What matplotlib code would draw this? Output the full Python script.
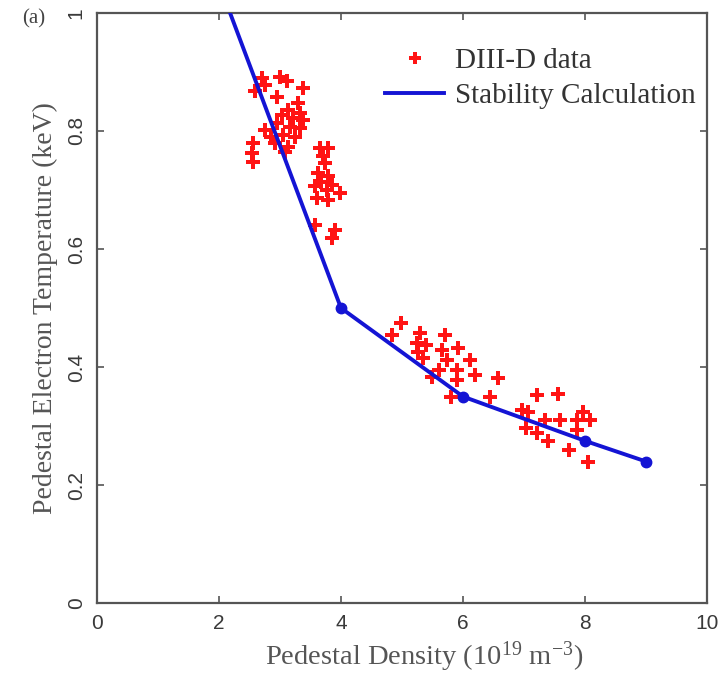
import matplotlib
matplotlib.use("Agg")
import matplotlib.pyplot as plt
from matplotlib.lines import Line2D

plt.rcParams["mathtext.fontset"] = "custom"
plt.rcParams["mathtext.rm"] = "Liberation Serif"
plt.rcParams["mathtext.it"] = "Liberation Serif:italic"

# DIII-D pedestal measurements: density (1e19 m^-3) and electron temperature (keV)
density = [
    2.70, 3.00, 3.11, 3.38, 2.59, 2.75, 2.95, 3.30, 3.14, 3.33, 3.03, 3.22, 3.38,
    2.95, 3.16, 3.33, 2.75, 2.86, 3.05, 3.25, 2.92, 3.14, 2.56, 2.54, 2.56, 3.08,
    3.66, 3.79, 3.71, 3.74, 3.63, 3.79, 3.68, 3.85, 3.57, 3.77, 3.98, 3.60, 3.79,
    3.57, 3.90, 3.85,
    4.99, 4.83, 5.30, 5.70, 5.24, 5.40, 5.92, 5.27, 5.65, 6.11, 5.35, 5.73, 5.60,
    5.90, 6.20, 6.58, 5.49, 5.90, 5.81, 6.44, 7.21, 7.56, 6.96, 7.07, 7.34, 7.59,
    7.97, 8.08, 7.86, 7.04, 7.21, 7.40, 7.73, 8.05, 7.86,
]
temperature = [
    0.889, 0.892, 0.884, 0.872, 0.867, 0.878, 0.858, 0.847, 0.836, 0.830, 0.827,
    0.821, 0.819, 0.813, 0.807, 0.805, 0.802, 0.790, 0.793, 0.790, 0.779, 0.773,
    0.779, 0.762, 0.748, 0.765,
    0.771, 0.771, 0.757, 0.745, 0.728, 0.723, 0.714, 0.708, 0.706, 0.700, 0.694,
    0.686, 0.683, 0.641, 0.632, 0.618,
    0.474, 0.454, 0.457, 0.454, 0.440, 0.437, 0.432, 0.426, 0.429, 0.412, 0.415,
    0.412, 0.395, 0.395, 0.386, 0.381, 0.384, 0.378, 0.350, 0.350, 0.353, 0.355,
    0.327, 0.324, 0.310, 0.310, 0.324, 0.310, 0.310, 0.296, 0.288, 0.274, 0.259,
    0.240, 0.293,
]

# Stability calculation boundary
calc_density = [2.0, 4.0, 6.0, 8.0, 9.0]
calc_temperature = [1.05, 0.50, 0.35, 0.275, 0.24]

x_ticks = [0, 2, 4, 6, 8, 10]
y_ticks = [0, 0.2, 0.4, 0.6, 0.8, 1]

serif = ["Liberation Serif", "DejaVu Serif"]
sans = ["Liberation Sans", "DejaVu Sans"]

fig = plt.figure(figsize=(7.23, 6.74), dpi=100)
ax = fig.add_axes([0.134, 0.105, 0.844, 0.876])

frame_color = "#555555"
line_color = "#1414d4"
point_color = "#ff1414"
ax.plot(calc_density, calc_temperature, color=line_color, linewidth=2.8,
        marker="o", markersize=7.5, zorder=3)
ax.plot(density, temperature, linestyle="none", marker="P", markersize=10.5,
        color=point_color, markeredgewidth=0, zorder=2)

ax.set_xlim(0, 10)
ax.set_ylim(0, 1)
ax.set_xticks(x_ticks)
ax.set_xticklabels([f"{t:g}" for t in x_ticks])
ax.set_yticks(y_ticks)
ax.set_yticklabels([f"{t:g}" for t in y_ticks], rotation=90, va="center")
ax.tick_params(direction="in", top=True, right=True, length=5, width=1.2,
               colors=frame_color, labelsize=15, pad=8)
for lab in ax.get_xticklabels() + ax.get_yticklabels():
    lab.set_family(sans)
    lab.set_color("#3a3a3a")
for sp in ax.spines.values():
    sp.set_color(frame_color)
    sp.set_linewidth(1.6)

ax.set_xlabel("Pedestal Density (10$^{19}$ m$^{-3}$)", family=serif,
              fontsize=20.5, color="#555555")
ax.xaxis.set_label_coords(0.536, -0.062)
ax.set_ylabel("Pedestal Electron Temperature (keV)", family=serif,
              fontsize=20, color="#555555", labelpad=6)

handles = [
    Line2D([], [], linestyle="none", marker="P", markersize=9, color=point_color,
           markeredgewidth=0),
    Line2D([], [], color=line_color, linewidth=2.8),
]
leg = ax.legend(handles, ["DIII-D data", "Stability Calculation"],
                loc="upper right", frameon=False, prop={"family": serif, "size": 21},
                bbox_to_anchor=(1.025, 0.985), handlelength=2.0, handletextpad=0.4,
                labelspacing=0.3)
for t in leg.get_texts():
    t.set_color("#333333")

fig.text(0.047, 0.972, "(a)", family=serif, fontsize=15, color="#444444",
         ha="center", va="center")

fig.savefig("out.png", dpi=100, facecolor="white")
